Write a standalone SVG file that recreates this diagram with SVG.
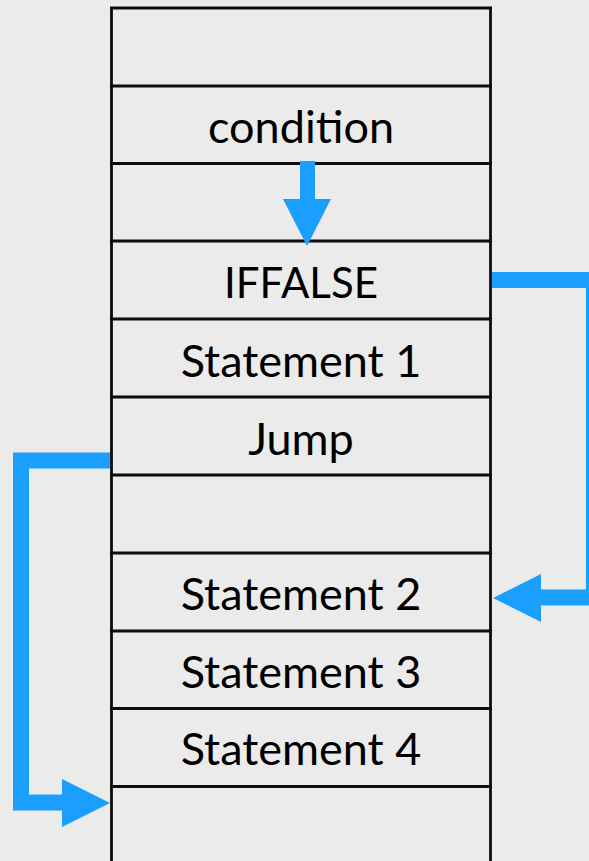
<svg xmlns="http://www.w3.org/2000/svg" width="589" height="861" viewBox="0 0 589 861">
  <style>
    .grid { stroke: #0d0d0d; stroke-width: 2.8; fill: none; }
    .label { font-family: Lato, "Open Sans", "Liberation Sans", sans-serif; font-size: 45px; fill: #000; text-anchor: middle; }
    .flow { stroke: #1a9fff; stroke-width: 16; fill: none; stroke-linejoin: miter; stroke-linecap: butt; }
    .head { fill: #1a9fff; }
  </style>
  <rect width="589" height="861" fill="#ebebeb"/>

  <!-- memory column: outer walls and row separators -->
  <g id="column" class="grid">
    <line x1="111.5" y1="8" x2="111.5" y2="870"/>
    <line x1="490.5" y1="8" x2="490.5" y2="870"/>
    <line x1="110" y1="8" x2="492" y2="8"/>
    <line x1="110" y1="86" x2="492" y2="86"/>
    <line x1="110" y1="163.5" x2="492" y2="163.5"/>
    <line x1="110" y1="241" x2="492" y2="241"/>
    <line x1="110" y1="319" x2="492" y2="319"/>
    <line x1="110" y1="397" x2="492" y2="397"/>
    <line x1="110" y1="475" x2="492" y2="475"/>
    <line x1="110" y1="553" x2="492" y2="553"/>
    <line x1="110" y1="631" x2="492" y2="631"/>
    <line x1="110" y1="708.5" x2="492" y2="708.5"/>
    <line x1="110" y1="786.5" x2="492" y2="786.5"/>
  </g>

  <g id="cell-condition"><text class="label" x="301" y="143">condition</text></g>
  <g id="cell-iffalse"><text class="label" x="301" y="298" style="font-size:42px">IFFALSE</text></g>
  <g id="cell-statement1"><text class="label" x="301" y="377">Statement 1</text></g>
  <g id="cell-jump"><text class="label" x="301" y="455">Jump</text></g>
  <g id="cell-statement2"><text class="label" x="301" y="610">Statement 2</text></g>
  <g id="cell-statement3"><text class="label" x="301" y="688">Statement 3</text></g>
  <g id="cell-statement4"><text class="label" x="301" y="765">Statement 4</text></g>

  <!-- control-flow arrows -->
  <g id="connectors">
    <line class="flow" x1="307.5" y1="161" x2="307.5" y2="200" style="stroke-width:15"/>
    <polygon class="head" points="283,199 331,199 307,246"/>

    <polyline class="flow" points="492,280 594,280 594,597.5 540,597.5"/>
    <polygon class="head" points="541,574 541,622 493,598"/>

    <polyline class="flow" points="110,460.5 21,460.5 21,802.5 63,802.5"/>
    <polygon class="head" points="62,779 62,827 110,803"/>
  </g>
</svg>
